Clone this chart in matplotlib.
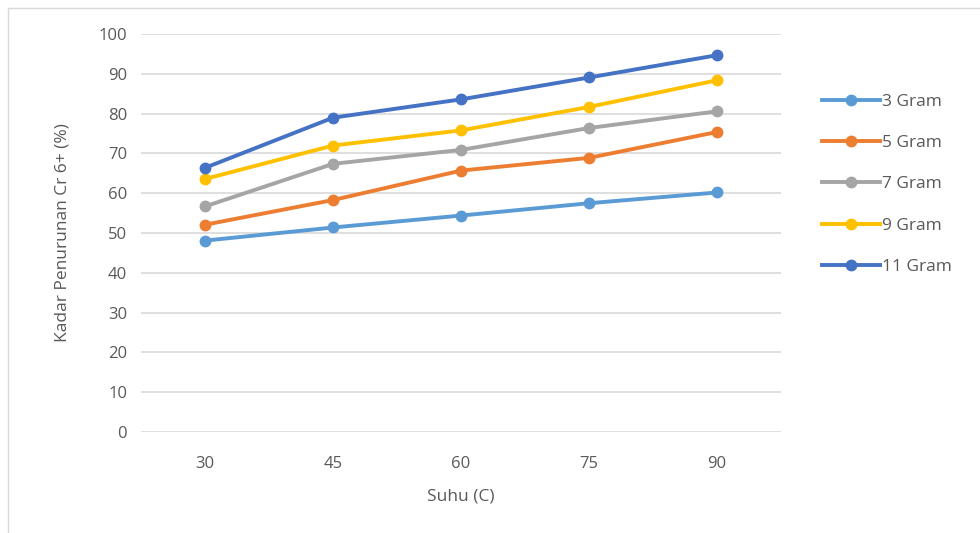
import matplotlib.pyplot as plt
from matplotlib.patches import Rectangle

suhu = ["30", "45", "60", "75", "90"]
labels = ["3 Gram", "5 Gram", "7 Gram", "9 Gram", "11 Gram"]
g3 = [48.1, 51.4, 54.4, 57.5, 60.2]
g5 = [52.1, 58.3, 65.7, 68.9, 75.4]
g7 = [56.7, 67.4, 70.9, 76.4, 80.6]
g9 = [63.6, 72.0, 75.8, 81.7, 88.4]
g11 = [66.4, 79.0, 83.6, 89.1, 94.7]
colors = ["#5B9BD5", "#ED7D31", "#A5A5A5", "#FFC000", "#4472C4"]

plt.rcParams['font.family'] = ['Open Sans', 'DejaVu Sans']
fig = plt.figure(figsize=(9.8, 5.33), dpi=100)
ax = fig.add_axes([0.144, 0.1895, 0.653, 0.7465])

x = list(range(len(suhu)))
for vals, lab, c in zip([g3, g5, g7, g9, g11], labels, colors):
    ax.plot(x, vals, color=c, lw=2.8, marker="o", markersize=7.5, label=lab)

ax.set_xlim(-0.5, 4.5)
ax.set_ylim(0, 100)
ax.set_yticks(range(0, 101, 10))
ax.set_xticks(x)
ax.set_xticklabels(suhu)
ax.grid(axis="y", color="#D9D9D9", lw=1.2)
ax.set_axisbelow(True)
for s in ax.spines.values():
    s.set_visible(False)
ax.tick_params(length=0, colors="#595959", labelsize=12, pad=10)
ax.tick_params(axis="x", pad=17)
ax.set_xlabel("Suhu (C)", color="#595959", fontsize=12.5, labelpad=12)
ax.set_ylabel("Kadar Penurunan Cr 6+ (%)", color="#595959", fontsize=12.5, labelpad=20)

leg = ax.legend(loc="upper left", bbox_to_anchor=(1.04, 0.89), frameon=False,
                fontsize=12.5, labelspacing=1.45, handlelength=3.3, handletextpad=0.15,
                labelcolor="#595959")

fig.patches.append(Rectangle((8 / 980, -0.1), 1.2, 1 - 8 / 533 + 0.1,
                             transform=fig.transFigure, fill=False,
                             edgecolor="#D9D9D9", lw=1))

fig.savefig("out.png", dpi=100)
